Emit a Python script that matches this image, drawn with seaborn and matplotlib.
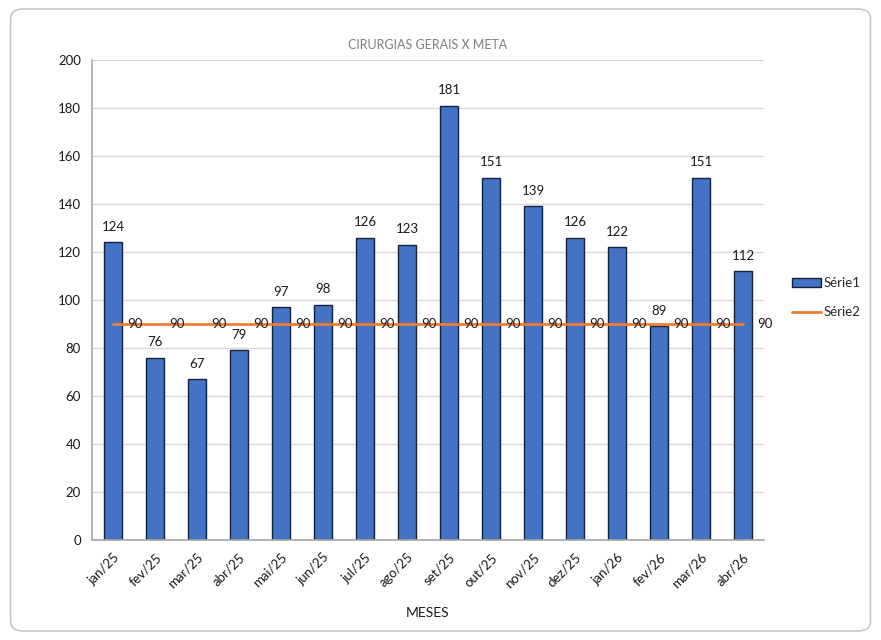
import matplotlib.pyplot as plt
import seaborn as sns
import pandas as pd
import numpy as np
from matplotlib.patches import FancyBboxPatch
from matplotlib.lines import Line2D
from matplotlib.patches import Patch

meses = ["jan/25", "fev/25", "mar/25", "abr/25", "mai/25", "jun/25", "jul/25", "ago/25",
         "set/25", "out/25", "nov/25", "dez/25", "jan/26", "fev/26", "mar/26", "abr/26"]
cirurgias = [124, 76, 67, 79, 97, 98, 126, 123, 181, 151, 139, 126, 122, 89, 151, 112]
meta = [90] * 16

df = pd.DataFrame({"mes": meses, "Série1": cirurgias, "Série2": meta})

sns.set_style("white")
plt.rcParams["font.family"] = ["Lato", "DejaVu Sans"]

fig = plt.figure(figsize=(8.81, 6.40), dpi=100)
ax = fig.add_axes([0.1044, 0.15625, 0.7628, 0.75])

# rounded outer frame
frame = FancyBboxPatch((0.012, 0.014), 0.976, 0.972, boxstyle="round,pad=0,rounding_size=0.015",
                       transform=fig.transFigure, facecolor="none", edgecolor="#c8c8c8", linewidth=1.2)
fig.patches.append(frame)

sns.barplot(data=df, x="mes", y="Série1", color="#4472C4", saturation=1, width=0.43,
            edgecolor="#14213a", linewidth=1.0, ax=ax, zorder=2)
x = np.arange(len(meses))
sns.lineplot(x=x, y=df["Série2"], color="#ED7D31", linewidth=2, ax=ax, zorder=3)

for xi, v in zip(x, cirurgias):
    ax.text(xi, v + 4, str(v), ha="center", va="bottom", fontsize=9.5, color="#1a1a1a")
for xi, v in zip(x, meta):
    ax.text(xi + 0.33, v, str(v), ha="left", va="center", fontsize=9.5, color="#1a1a1a", zorder=4)

ax.set_ylim(0, 200)
ax.set_xlim(-0.5, 15.5)
ax.set_yticks(range(0, 201, 20))
ax.yaxis.grid(True, color="#d9d9d9", linewidth=1.0)
ax.set_axisbelow(True)
for s in ["top", "right"]:
    ax.spines[s].set_visible(False)
ax.spines["left"].set_color("#a6a6a6")
ax.spines["bottom"].set_color("#a6a6a6")
ax.spines["left"].set_linewidth(1.2)
ax.spines["bottom"].set_linewidth(1.2)
ax.tick_params(axis="both", length=0, labelsize=9.5, colors="#1a1a1a", pad=8)
plt.setp(ax.get_xticklabels(), rotation=45, ha="right", rotation_mode="anchor")

ax.set_ylabel("")
ax.set_xlabel("MESES", fontsize=10, color="#1a1a1a", labelpad=12)
ax.set_title("CIRURGIAS GERAIS X META", fontsize=9, color="#7f7f7f", pad=8)

handles = [Patch(facecolor="#4472C4", edgecolor="#14213a", label="Série1"),
           Line2D([0], [0], color="#ED7D31", linewidth=2, label="Série2")]
fig.legend(handles=handles, loc="center left", bbox_to_anchor=(0.885, 0.535), frameon=False,
           fontsize=9.5, handlelength=2.2, handletextpad=0.2, labelspacing=1.3)

fig.savefig("out.png", dpi=100)
